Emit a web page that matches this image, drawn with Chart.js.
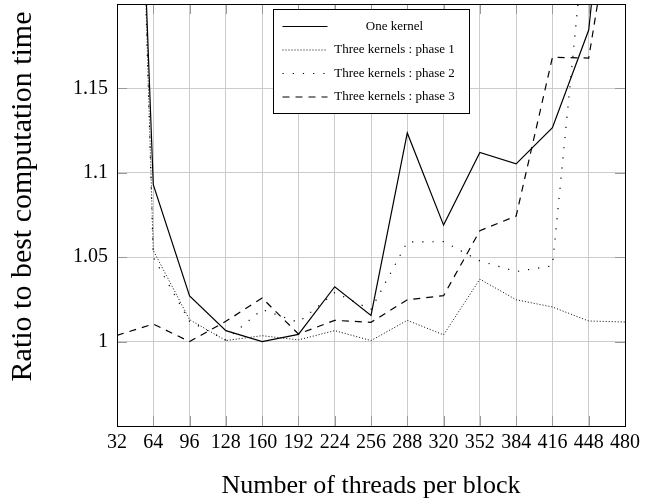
<!DOCTYPE html>
<html>
<head>
<meta charset="utf-8">
<script src="https://cdn.jsdelivr.net/npm/chart.js@4.4.0/dist/chart.umd.min.js"></script>
<style>
  html, body { margin: 0; padding: 0; background: #fff; }
  #wrap { width: 655px; height: 500px; }
</style>
</head>
<body>
<div id="wrap"><canvas id="ratioChart" width="655" height="500"></canvas></div>
<script>
// threads per block (x categories)
var threads = [32, 64, 96, 128, 160, 192, 224, 256, 288, 320, 352, 384, 416, 448, 480];
// ratio to best computation time
var oneKernel = [1.66, 1.093, 1.027, 1.0065, 1.000, 1.0043, 1.0325, 1.0155, 1.1236, 1.069, 1.112, 1.1053, 1.1267, 1.1846, 1.39];
var phase1 = [1.78, 1.054, 1.013, 1.0006, 1.0035, 1.001, 1.0065, 1.0006, 1.0126, 1.004, 1.037, 1.0248, 1.0205, 1.0122, 1.0116];
var phase2 = [1.78, 1.05, 1.012, 1.001, 1.019, 1.0114, 1.029, 1.019, 1.059, 1.0592, 1.0478, 1.0415, 1.0449, 1.265, 1.5];
var phase3 = [1.0037, 1.0104, 1.0, 1.012, 1.0258, 1.0045, 1.0126, 1.0114, 1.0248, 1.0272, 1.0657, 1.0744, 1.1684, 1.168, 1.30];
var yTicks = [1, 1.05, 1.1, 1.15];
var seriesNames = ['One kernel', 'Three kernels : phase 1', 'Three kernels : phase 2', 'Three kernels : phase 3'];

var serif = "'Liberation Serif', 'Times New Roman', serif";

// frame, inner ticks and the boxed legend (pgfplots look)
var framePlugin = {
    id: 'frameLegend',
    afterDatasetsDraw: function(chart) {
        var ctx = chart.ctx, area = chart.chartArea;
        var xs = chart.scales.x, ys = chart.scales.y;
        ctx.save();
        ctx.strokeStyle = '#999999';
        ctx.lineWidth = 1;
        ctx.setLineDash([]);
        ctx.beginPath();
        for (var i = 1; i < threads.length - 1; i++) {
            var px = Math.round(xs.getPixelForValue(i)) + 0.5;
            ctx.moveTo(px, area.bottom); ctx.lineTo(px, area.bottom - 10);
            ctx.moveTo(px, area.top); ctx.lineTo(px, area.top + 10);
        }
        yTicks.forEach(function(v) {
            var py = Math.round(ys.getPixelForValue(v)) + 0.5;
            ctx.moveTo(area.left, py); ctx.lineTo(area.left + 10, py);
            ctx.moveTo(area.right, py); ctx.lineTo(area.right - 10, py);
        });
        ctx.stroke();

        ctx.strokeStyle = '#000';
        ctx.strokeRect(Math.round(area.left) + 0.5, Math.round(area.top) + 0.5,
            Math.round(area.right - area.left), Math.round(area.bottom - area.top));

        // legend box
        var lx = Math.round(area.left + 156) + 0.5, ly = Math.round(area.top + 5) + 0.5;
        var lw = 196, lh = 104;
        ctx.fillStyle = '#fff';
        ctx.fillRect(lx, ly, lw, lh);
        ctx.strokeRect(lx, ly, lw, lh);
        ctx.font = "13px " + serif;
        ctx.textAlign = 'center';
        ctx.textBaseline = 'middle';
        chart.data.datasets.forEach(function(ds, k) {
            var ry = ly + 17 + k * 23.5;
            ctx.strokeStyle = ds.borderColor;
            ctx.lineWidth = ds.borderWidth;
            ctx.setLineDash(ds.borderDash || []);
            ctx.beginPath();
            ctx.moveTo(lx + 9, ry);
            ctx.lineTo(lx + 54, ry);
            ctx.stroke();
            ctx.setLineDash([]);
            ctx.fillStyle = '#000';
            ctx.fillText(ds.label, lx + 121, ry);
        });
        ctx.restore();
    }
};

var ctx = document.getElementById('ratioChart').getContext('2d');
var chart = new Chart(ctx, {
    type: 'line',
    data: {
        labels: threads,
        datasets: [{
            label: seriesNames[0],
            data: oneKernel,
            borderColor: '#000',
            borderWidth: 1.2,
            borderDash: []
        }, {
            label: seriesNames[1],
            data: phase1,
            borderColor: '#000',
            borderWidth: 1,
            borderDash: [1, 2]
        }, {
            label: seriesNames[2],
            data: phase2,
            borderColor: '#000',
            borderWidth: 1.2,
            borderDash: [1.2, 9]
        }, {
            label: seriesNames[3],
            data: phase3,
            borderColor: '#000',
            borderWidth: 1.2,
            borderDash: [7, 6]
        }]
    },
    options: {
        responsive: false,
        animation: false,
        devicePixelRatio: 1,
        layout: { padding: { left: 0, top: 4, right: 30, bottom: 0 } },
        elements: {
            point: { radius: 0, hoverRadius: 0 },
            line: { tension: 0, fill: false }
        },
        plugins: {
            legend: { display: false },
            tooltip: { enabled: false }
        },
        scales: {
            x: {
                type: 'category',
                offset: false,
                border: { display: false },
                grid: { color: '#cccccc', lineWidth: 1, drawTicks: false },
                ticks: {
                    color: '#000',
                    font: { family: serif, size: 20 },
                    padding: 5,
                    autoSkip: false,
                    maxRotation: 0,
                    minRotation: 0
                },
                title: {
                    display: true,
                    text: 'Number of threads per block',
                    color: '#000',
                    font: { family: serif, size: 26 },
                    padding: { top: 0, bottom: -2 }
                },
                afterFit: function(scale) { scale.height = 74; }
            },
            y: {
                type: 'linear',
                min: 0.95,
                max: 1.2,
                border: { display: false },
                grid: { color: '#cccccc', lineWidth: 1, drawTicks: false },
                ticks: {
                    color: '#000',
                    font: { family: serif, size: 20 },
                    padding: 9,
                    callback: function(v) { return String(v); }
                },
                afterBuildTicks: function(scale) {
                    scale.ticks = yTicks.map(function(v) { return { value: v }; });
                },
                title: {
                    display: true,
                    text: 'Ratio to best computation time ',
                    align: 'end',
                    color: '#000',
                    font: { family: serif, size: 30 },
                    padding: { top: 5, bottom: 0 }
                },
                afterFit: function(scale) {
                    scale.width = 117;
                    scale.paddingTop = 0;
                    scale.paddingBottom = 0;
                }
            }
        }
    },
    plugins: [framePlugin]
});
</script>
</body>
</html>
